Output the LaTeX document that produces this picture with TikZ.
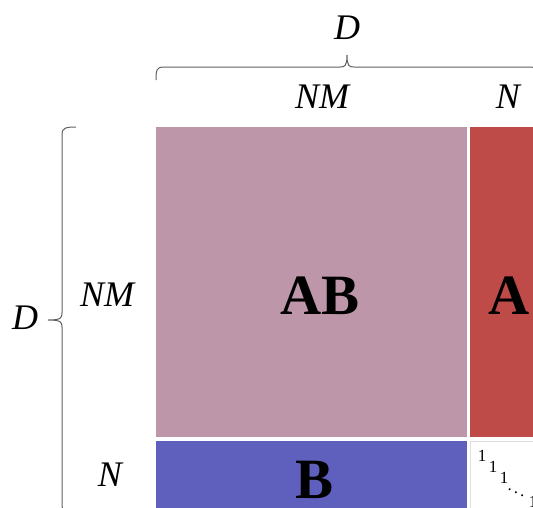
\documentclass[tikz,border=0pt]{standalone}
\usepackage{fontspec}
\setmainfont{Liberation Serif}

\definecolor{abpink}{RGB}{190,150,170}
\definecolor{ared}{RGB}{190,75,72}
\definecolor{bblue}{RGB}{95,95,190}

\begin{document}
\begin{tikzpicture}[x=1pt,y=-1pt,
  dimlabel/.style={font=\fontsize{36}{36}\selectfont\itshape, inner sep=0pt},
  blocklabel/.style={font=\fontsize{57}{57}\selectfont\bfseries, inner sep=0pt},
  onelabel/.style={font=\fontsize{17}{17}\selectfont, inner sep=0pt},
  dimbrace/.style={draw=gray!75!black, line width=1pt}]

% Fix the size of the picture
\useasboundingbox (0,0) rectangle (533,507);
\clip (0,0) rectangle (533,507);

% Blocks of the matrix
\fill[abpink] (156,127) rectangle (467,437);
\fill[ared] (470,127) rectangle (545,437);
\fill[bblue] (156,441) rectangle (467,520);
\draw[gray!25, fill=white] (470,441) rectangle (545,520);

% Block names
\node[blocklabel] (ab) at (320,296) {AB};
\node[blocklabel] (a) at (509,296) {A};
\node[blocklabel] (b) at (315,480) {B};

% Diagonal of ones
\node[onelabel] (one1) at (482,456) {1};
\node[onelabel] (one2) at (493,467) {1};
\node[onelabel] (one3) at (504,478) {1};
\node[onelabel] (dots) at (516,490) {$\ddots$};
\node[onelabel] (one4) at (533,502) {1};

% Top brace
\draw[dimbrace] (156,80) .. controls (156,70) and (157,67) .. (163,67)
  -- (340,67) .. controls (345,67) and (347,66) .. (347,55)
  .. controls (347,66) and (349,67) .. (354,67)
  -- (531,67) .. controls (537,67) and (538,70) .. (538,80);

% Left brace
\draw[dimbrace] (76,127) .. controls (66,127) and (62,128) .. (62,134)
  -- (62,313) .. controls (62,318) and (61,320) .. (48,320)
  .. controls (61,320) and (62,322) .. (62,327)
  -- (62,506) .. controls (62,512) and (66,513) .. (76,513);

% Sizes
\node[dimlabel] (dtop) at (347,28) {D};
\node[dimlabel] (dleft) at (25,318) {D};
\node[dimlabel] (nmtop) at (322,97) {NM};
\node[dimlabel] (ntop) at (508,97) {N};
\node[dimlabel] (nmleft) at (107,295) {NM};
\node[dimlabel] (nleft) at (110,475) {N};
\end{tikzpicture}
\end{document}
